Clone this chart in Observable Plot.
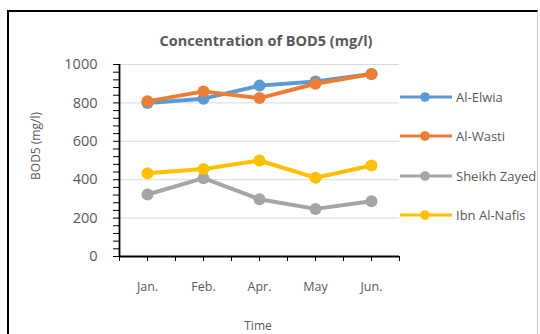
<!DOCTYPE html>
<html>
<head>
<meta charset="utf-8">
<script src="https://cdn.jsdelivr.net/npm/d3@7"></script>
<script src="https://cdn.jsdelivr.net/npm/@observablehq/plot@0.6"></script>
<style>
  html, body { margin: 0; padding: 0; background: #fff; }
  #wrap { position: relative; width: 540px; height: 334px; overflow: hidden; font-family: "Open Sans", sans-serif; color: #595959; }
  #frame { position: absolute; left: 7px; top: 10px; width: 531px; height: 340px; border-left: 2.5px solid #000; border-top: 2.5px solid #000; border-right: 1px solid #c8c8c8; box-sizing: border-box; }
  #title { position: absolute; left: 0; width: 532px; top: 31px; text-align: center; font-weight: bold; font-size: 14.5px; }
  #ytitle { position: absolute; left: 35px; top: 146px; transform: translate(-50%, -50%) rotate(-90deg); font-size: 12px; white-space: nowrap; }
  #xtitle { position: absolute; left: 258px; top: 325px; transform: translate(-50%, -50%); font-size: 12px; }
  #chart { position: absolute; left: 0; top: 0; }
  #legend { position: absolute; left: 400px; top: 0; }
  .item { position: absolute; left: 0; height: 20px; display: flex; align-items: center; white-space: nowrap; font-size: 13px; }
  .item svg { margin-right: 4px; }
</style>
</head>
<body>
<div id="wrap">
  <div id="frame"></div>
  <div id="chart"></div>
  <div id="title">Concentration of BOD5 (mg/l)</div>
  <div id="ytitle">BOD5 (mg/l)</div>
  <div id="xtitle">Time</div>
  <div id="legend"></div>
</div>
<script>
// ---- data ----
const months = ["Jan.", "Feb.", "Apr.", "May", "Jun."];
const seriesNames = ["Al-Elwia", "Al-Wasti", "Sheikh Zayed", "Ibn Al-Nafis"];
const seriesColors = ["#5B9BD5", "#ED7D31", "#A5A5A5", "#FFC000"];
const alElwia = [800, 822, 890, 912, 950];
const alWasti = [808, 860, 825, 900, 950];
const sheikhZayed = [323, 408, 298, 248, 288];
const ibnAlNafis = [433, 456, 500, 410, 474];
const yTicks = [0, 200, 400, 600, 800, 1000];

const seriesValues = [alElwia, alWasti, sheikhZayed, ibnAlNafis];
const rows = [];
seriesNames.forEach((s, k) => {
  seriesValues[k].forEach((v, i) => rows.push({series: s, i, month: months[i], value: v}));
});

const marks = [
  Plot.gridY(yTicks.filter(d => d > 0), {stroke: "#d9d9d9", strokeOpacity: 1, strokeWidth: 1}),
  Plot.axisY({ticks: d3.range(0, 1001, 40), tickFormat: d => d % 200 === 0 ? String(d) : "", tickSize: 6, tickPadding: 16, fontSize: 14.5, color: "#595959", stroke: "#000", label: null}),
  Plot.axisX({ticks: d3.range(-0.5, 4.51, 0.5), tickFormat: d => Number.isInteger(d) ? months[d] : "", tickSize: 5, tickPadding: 21, fontSize: 12.5, color: "#595959", stroke: "#000", label: null}),
];
seriesNames.forEach((s) => {
  const sub = rows.filter(r => r.series === s);
  marks.push(Plot.line(sub, {x: "i", y: "value", stroke: "series", strokeWidth: 4, strokeLinejoin: "round"}));
  marks.push(Plot.dot(sub, {x: "i", y: "value", fill: "series", r: 6}));
});
marks.push(Plot.ruleY([0], {stroke: "#000", strokeWidth: 1.8}));
marks.push(Plot.ruleX([-0.5], {stroke: "#000", strokeWidth: 1.8}));

const chart = Plot.plot({
  width: 540,
  height: 334,
  marginLeft: 119,
  marginRight: 141,
  marginTop: 64,
  marginBottom: 78,
  style: {background: "transparent", fontFamily: "Open Sans, sans-serif", overflow: "visible"},
  x: {type: "linear", domain: [-0.5, 4.5], axis: null},
  y: {domain: [0, 1000], axis: null},
  color: {domain: seriesNames, range: seriesColors},
  marks
});
document.getElementById("chart").appendChild(chart);

// ---- legend ----
const legendY = [97, 136, 176, 215];
const legend = document.getElementById("legend");
seriesNames.forEach((s, k) => {
  const div = document.createElement("div");
  div.className = "item";
  div.style.top = (legendY[k] - 10) + "px";
  div.innerHTML = `<svg width="52" height="12"><line x1="0" x2="52" y1="6" y2="6" stroke="${seriesColors[k]}" stroke-width="3"/><circle cx="25" cy="6" r="4.8" fill="${seriesColors[k]}"/></svg><span>${s}</span>`;
  legend.appendChild(div);
});
</script>
</body>
</html>
